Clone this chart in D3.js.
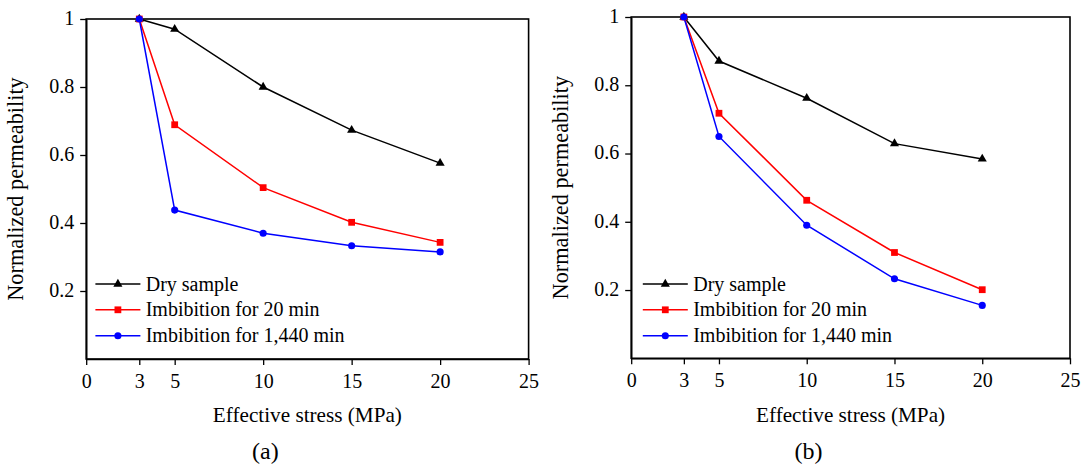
<!DOCTYPE html>
<html>
<head>
<meta charset="utf-8">
<script src="https://cdn.jsdelivr.net/npm/d3@7"></script>
<style>
body { margin: 0; background: #fff; }
</style>
</head>
<body>
<svg id="chart" width="1083" height="470"></svg>
<script>
var stress = [3, 5, 10, 15, 20]
var xTicks = [0, 3, 5, 10, 15, 20, 25]
var yTicks = [0.2, 0.4, 0.6, 0.8, 1]

var seriesNames = ["Dry sample", "Imbibition for 20 min", "Imbibition for 1,440 min"]
var colors = ["#000000", "#ff0000", "#0000ff"]

// panel (a)
var dryA = [1, 0.970, 0.800, 0.673, 0.576]
var imb20A = [1, 0.689, 0.504, 0.402, 0.343]
var imb1440A = [1, 0.438, 0.370, 0.333, 0.315]

// panel (b)
var dryB = [1, 0.871, 0.762, 0.629, 0.584]
var imb20B = [1, 0.718, 0.463, 0.310, 0.201]
var imb1440B = [1, 0.650, 0.390, 0.233, 0.155]

var FONT = "'Liberation Serif', 'Times New Roman', serif"

var svg = d3.select("#chart").style("font-family", FONT)

draw_panel({left: 86.2, right: 528.6, top: 19, bottom: 359, legX: 9.2, legText: 59.5, label: "(a)"}, [dryA, imb20A, imb1440A])
draw_panel({left: 631.2, right: 1070, top: 17, bottom: 358.3, legX: 11.6, legText: 62, label: "(b)"}, [dryB, imb20B, imb1440B])

function draw_panel(box, data)
{
	var x = d3.scaleLinear().domain([0, 25]).range([box.left, box.right])
	var y = d3.scaleLinear().domain([0, 1]).range([box.bottom, box.top])

	var g = svg.append("g")

	// frame
	g.append("rect")
		.attr("x", box.left).attr("y", box.top)
		.attr("width", box.right - box.left)
		.attr("height", box.bottom - box.top)
		.attr("fill", "none").attr("stroke", "#000").attr("stroke-width", 1.6)

	var xAxis = g.append("g")
		.attr("transform", "translate(0," + box.bottom + ")")
		.call(d3.axisBottom(x).tickValues(xTicks).tickSize(6).tickSizeOuter(0).tickFormat(d3.format("d")))
	var yAxis = g.append("g")
		.attr("transform", "translate(" + box.left + ",0)")
		.call(d3.axisLeft(y).tickValues(yTicks).tickSize(6).tickSizeOuter(0).tickPadding(6)
			.tickFormat(function(d){ return d == 1 ? "1" : d3.format(".1f")(d) }))

	;[xAxis, yAxis].forEach(function(a){
		a.attr("font-family", null).attr("font-size", null)
		a.select(".domain").attr("stroke-width", 1.6)
		a.selectAll(".tick line").attr("stroke-width", 1.3)
		a.selectAll("text").style("font-family", FONT).attr("font-size", 20).attr("fill", "#000")
	})
	xAxis.selectAll(".tick text").attr("y", 29).attr("dy", 0)
	yAxis.selectAll(".tick text").attr("dy", "0.27em")

	var line = d3.line()
		.x(function(d, i){ return x(stress[i]) })
		.y(function(d){ return y(d) })

	data.forEach(function(vals, k){
		g.append("path")
			.datum(vals)
			.attr("fill", "none")
			.attr("stroke", colors[k])
			.attr("stroke-width", 1.5)
			.attr("d", line)
	})
	data.forEach(function(vals, k){
		g.selectAll(".m" + k)
			.data(vals)
			.enter()
			.append("path")
			.attr("transform", function(d, i){ return "translate(" + x(stress[i]) + "," + y(d) + ")" })
			.attr("d", marker(k))
			.attr("fill", colors[k])
	})

	// legend
	var lx = box.left + box.legX
	var ly = [284, 309.8, 335.8]
	seriesNames.forEach(function(name, k){
		g.append("line")
			.attr("x1", lx).attr("x2", lx + 45)
			.attr("y1", ly[k]).attr("y2", ly[k])
			.attr("stroke", colors[k]).attr("stroke-width", 1.5)
		g.append("path")
			.attr("transform", "translate(" + (lx + 22.5) + "," + ly[k] + ")")
			.attr("d", marker(k))
			.attr("fill", colors[k])
		g.append("text")
			.attr("x", box.left + box.legText).attr("y", ly[k] + 6.5)
			.attr("font-size", 20)
			.style("font-family", FONT)
			.text(name)
	})

	// axis titles
	g.append("text")
		.attr("x", (box.left + box.right) / 2)
		.attr("y", 422)
		.attr("text-anchor", "middle")
		.attr("font-size", 21.2)
		.style("font-family", FONT)
		.text("Effective stress (MPa)")
	g.append("text")
		.attr("transform", "translate(" + (box.left - 63) + "," + ((box.top + box.bottom) / 2) + ") rotate(-90)")
		.attr("text-anchor", "middle")
		.attr("font-size", 22.3)
		.style("font-family", FONT)
		.text("Normalized permeability")
	g.append("text")
		.attr("x", (box.left + box.right) / 2 - 42)
		.attr("y", 459)
		.attr("text-anchor", "middle")
		.attr("font-size", 24)
		.style("font-family", FONT)
		.text(box.label)
}

function marker(k)
{
	if (k == 0) return d3.symbol().type(d3.symbolTriangle).size(36)()
	if (k == 1) return d3.symbol().type(d3.symbolSquare).size(46)()
	return d3.symbol().type(d3.symbolCircle).size(40)()
}
</script>
</body>
</html>
